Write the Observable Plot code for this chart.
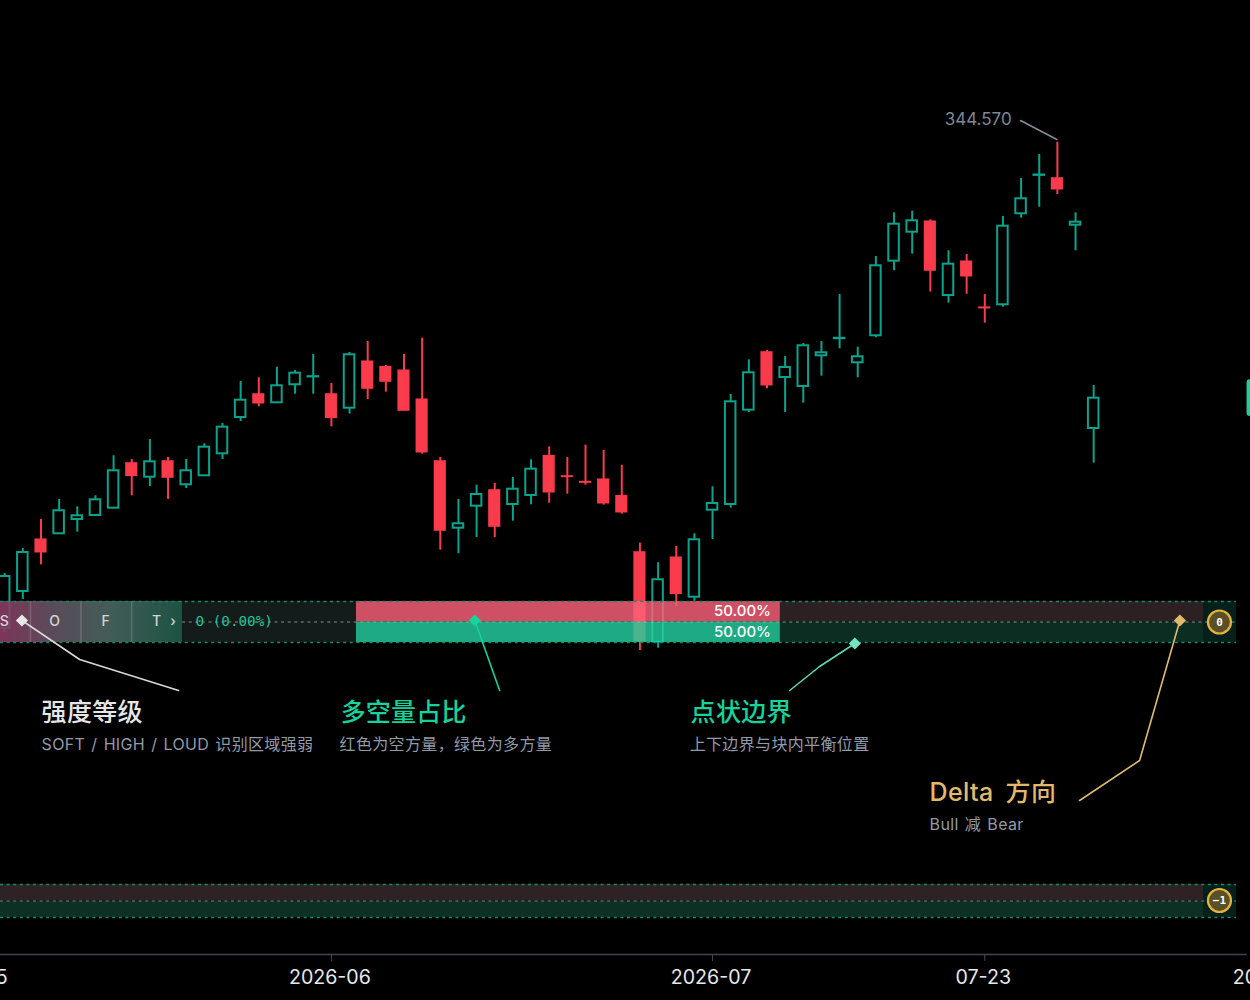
<!DOCTYPE html>
<html>
<head>
<meta charset="utf-8">
<style>
html,body{margin:0;padding:0;background:#000;overflow:hidden}
#chart svg{display:block;background:#000;font-family:Inter,"Noto Sans CJK SC",sans-serif}
</style>
<script src="https://cdn.jsdelivr.net/npm/d3@7"></script>
<script src="https://cdn.jsdelivr.net/npm/@observablehq/plot@0.6"></script>
</head>
<body>
<div id="chart"></div>
<script>
const opens = [223,232.25,245.18,246.68,250.25,251.25,253.08,264.25,260.83,264.75,258.93,261.18,266.68,275.75,281.5,279.43,283.93,285.9,
281.5,278.08,289.68,288.33,287.43,280.18,264.75,248.08,253.58,257.5,254,256.25,266.08,261,259.6,260.18,256.08,242,219.58,240.68,230.83,
252.58,254,277.58,292,285.75,283.5,291.18,295.45,289.43,296.18,314.83,322.08,324.68,306.25,314.68,303.2,303.93,326.68,336.28,335.5,323.83,273];
const closes = [236,242,242.08,252.43,251.18,255.18,262.43,261.18,264.68,260.75,262.43,268.33,273.33,280.08,279.33,283.68,286.83,285.95,
275.68,291.43,283,284.75,277.5,267.08,247.5,249.18,256.5,248.5,257.83,262.83,257.08,260.9,259.5,254.33,252.08,219.83,235.18,231.68,245.18,
254.25,279.68,286.93,283.83,288.25,293.68,291.93,295.55,290.93,313.68,324.08,324.93,312.5,314.08,311.08,303.1,323.58,330.43,336.38,332.83,324.58,280.58];
const highs = [236.75,243,250.25,255.25,253.43,256.18,266.18,265.25,270.25,265.75,265.25,269.18,274.25,284.75,285.68,288.33,287.5,291.5,
284.25,292,294.75,288.75,291.5,295.58,265.75,255.25,258.83,259.25,260.75,265.18,268.43,265.75,268.83,267.5,263.83,244.33,239.43,243.5,246.68,
258.43,281.5,290.18,292.5,291,294.25,294.75,306.5,293.33,316,326.93,327.33,325.18,317.43,316.5,306.5,326,335.5,341.5,344.57,326.93,283.75];
const lows = [222,230.25,238.93,246.6,247.08,251.1,253,256.18,258.5,255.25,258,261.1,265.25,274.75,278.43,279.38,281.58,281.58,
273.43,276.58,280.25,282.08,277.43,266.58,242.58,241.68,245.75,245.75,249.83,253.93,254.33,256.58,258.83,253.83,251.58,217.5,218.08,228.5,229.83,
245.25,253.08,277,282.93,277,279.33,286.08,292.93,285.68,295.68,312.43,316.58,307.08,304.33,306.58,299.33,303.33,325.58,328.33,331.5,317.43,264.33];
const tickBars = [-2,18,39,54,70];
const tickLabels = ["2026-05","2026-06","2026-07","07-23","2026-08"];
const ratioLabels = ["50.00%","50.00%"];
const strengthLetters = ["S","O","F","T","›"];
const strengthBars = [-0.03,2.75,5.56,8.37,9.27];
const separatorBars = [1.42,4.2,6.99];
const deltaLabels = ["0","−1"];
const deltaPrices = [224.63,155];
const highLabel = "344.570";

const UP = "#0ba38c", DOWN = "#f93b4c";
const candles = opens.map((o,i)=>({i,o,c:closes[i],h:highs[i],l:lows[i],up:closes[i]>=o}));
const upCandles = candles.filter(d=>d.up), downCandles = candles.filter(d=>!d.up);

const XL=-0.2314, XS=9.8, XA=19.38, XB=42.74, XC=66.05, XR=67.87;
const spaced=(ls,ws)=>(index,scales,values,dims,ctx,next)=>{
  const g=next(index,scales,values,dims,ctx);
  g.style.letterSpacing=ls+"px"; g.style.wordSpacing=ws+"px";
  return g;
};
const band=(x1,x2,y1,y2,fill,fillOpacity=1)=>Plot.rect([0],{x1,x2,y1,y2,fill,fillOpacity});
const dash=(y,x1,x2,stroke,opt={})=>Plot.ruleY([y],{x1,x2,stroke,strokeWidth:1.7,strokeDasharray:"3,3.6",...opt});
const txt=(t,x,y,o)=>Plot.text([t],{x:()=>x,y:()=>y,text:d=>d,textAnchor:"start",...o});
const leader=(xs,ys,stroke)=>Plot.line(xs.map((x,k)=>[x,ys[k]]),{x:d=>d[0],y:d=>d[1],stroke,strokeWidth:1.6,curve:"linear"});
const marker=(x,y,fill)=>Plot.dot([0],{x:()=>x,y:()=>y,symbol:"diamond2",r:5.5,fill});

const gradient = () => {
  const defs=d3.create("svg:defs");
  const g=defs.append("linearGradient").attr("id","softGrad").attr("gradientUnits","userSpaceOnUse")
    .attr("x1",0).attr("x2",182).attr("y1",0).attr("y2",0);
  [[0,"#8a3b62"],[0.3,"#625463"],[0.6,"#4a6660"],[1,"#1f5c4b"]].forEach(([o,c])=>g.append("stop").attr("offset",o).attr("stop-color",c));
  return defs.node();
};

const MINT="#16d39c", GOLD="#e0bb6c", SUB="#929aa6", WHITE="#e6e6e6", MONO="'DejaVu Sans Mono',monospace";
const BORDER="#128c6d", MID="#b4b4b4";
const titleOpts={fontSize:25,fontWeight:500,render:spaced(0.2,0)};
const subOpts={fontSize:16,fill:SUB,render:spaced(0.35,1.3)};

const chart = Plot.plot({
  width:1250,height:1000,
  marginTop:0,marginRight:0,marginBottom:46,marginLeft:0,
  style:{background:"#000"},
  x:{domain:[XL,68.64]},
  y:{domain:[141.5,380],axis:null},
  marks:[
    gradient,
    // price candles
    Plot.ruleX(candles,{x:"i",y1:"l",y2:"h",stroke:d=>d.up?UP:DOWN,strokeWidth:2}),
    Plot.rect(upCandles,{x1:d=>d.i-0.29,x2:d=>d.i+0.29,y1:"o",y2:"c",fill:"#000",stroke:UP,strokeWidth:2}),
    Plot.rect(downCandles,{x1:d=>d.i-0.29,x2:d=>d.i+0.29,y1:"o",y2:"c",fill:DOWN,stroke:DOWN,strokeWidth:1.6}),

    // first panel
    band(XL,XS,219.5,229.75,"url(#softGrad)",0.9),
    band(XS,XA,219.5,229.75,"#141c1c",0.95),
    band(XA,XB,224.63,229.75,"#fc627a",0.82),
    band(XA,XB,219.5,224.63,"#25cf9f",0.82),
    band(XB,XC,224.63,229.75,"#2e2224",0.95),
    band(XB,XC,219.5,224.63,"#0d3024",0.95),
    band(XC,XR,219.5,229.75,"#04201a"),
    Plot.ruleX(separatorBars,{y1:219.5,y2:229.75,stroke:"#fff",strokeOpacity:0.16,strokeWidth:1.5}),
    dash(229.75,XL,XR,BORDER),
    dash(219.5,XL,XR,BORDER),
    dash(224.63,XS,XR,MID,{strokeOpacity:0.5,strokeWidth:1.5}),
    Plot.text(strengthLetters,{x:(d,i)=>strengthBars[i],y:()=>224.75,text:d=>d,fill:"#d4d4d4",fontSize:14,fontWeight:500}),
    txt("0 (0.00%)",10.51,224.75,{fill:"#1fc495",fontSize:14.3,fontWeight:500,fontFamily:MONO}),
    Plot.text(ratioLabels,{x:()=>42.22,y:(d,i)=>i?222:227.25,text:d=>d,textAnchor:"end",fill:"#fff",fontSize:15,fontWeight:500}),

    // second panel
    band(XL,XC,154.88,159,"#2e2224"),
    band(XL,XC,150.75,154.88,"#0d3024"),
    band(XC,XR,150.75,159,"#04201a"),
    dash(159,XL,XR,BORDER),
    dash(150.75,XL,XR,BORDER),
    dash(154.88,XL,XR,MID,{strokeOpacity:0.42,strokeWidth:1.5}),

    // delta badges
    Plot.dot(deltaPrices,{x:()=>66.93,y:d=>d,r:11.5,fill:"#5a5028",stroke:"#e6b23c",strokeWidth:2.2}),
    Plot.text(deltaLabels,{x:()=>66.93,y:(d,i)=>deltaPrices[i],text:d=>d,fill:"#fff",fontSize:11,fontWeight:700,fontFamily:MONO}),

    // highest-price note
    leader([55.97,57.97],[350,345.25],"#858b96"),
    txt(highLabel,51.79,350.25,{fill:"#7f8794",fontSize:17}),

    // annotations
    leader([0.95,4.13,9.58],[225,215.25,207.5],"#d8d8d8"),
    marker(0.95,225,"#e8e8e8"),
    txt("强度等级",2.03,202,{...titleOpts,fill:WHITE,render:spaced(0.35,0)}),
    txt("SOFT / HIGH / LOUD 识别区域强弱",2.03,193.9,subOpts),

    leader([25.9,27.27],[225,207.5],MINT),
    marker(25.9,225,MINT),
    txt("多空量占比",18.51,202,{...titleOpts,fill:MINT}),
    txt("红色为空方量，绿色为多方量",18.45,193.9,subOpts),

    leader([46.84,44.9,43.25],[219.25,213.5,207.5],"#58d8b4"),
    marker(46.84,219.25,"#74e4c4"),
    txt("点状边界",37.79,202,{...titleOpts,fill:MINT,render:spaced(0.35,0)}),
    txt("上下边界与块内平衡位置",37.74,193.9,subOpts),

    leader([64.75,62.53,59.22],[225,190,180],GOLD),
    marker(64.75,225,GOLD),
    txt("Delta 方向",50.96,182,{...titleOpts,fill:GOLD,render:spaced(0.35,5)}),
    txt("Bull 减 Bear",50.96,173.9,subOpts),

    // edge price tag
    Plot.rect([0],{x1:68.45,x2:70,y1:276,y2:285.2,fill:"#2ec79a",rx:3}),

    // time axis
    Plot.ruleY([141.5],{x1:XL,x2:68.45,stroke:"#3f4552",strokeWidth:1.5}),
    Plot.axisX(tickBars,{tickFormat:()=>null,tickSize:7,stroke:"#444a55",label:null}),
    Plot.axisX(tickBars,{tickFormat:b=>tickLabels[tickBars.indexOf(b)],tickSize:0,tickPadding:16,fontSize:19.6,fontVariant:"normal",dx:-1.5,fill:"#e8e8e8",stroke:"none",label:null})
  ]
});
document.getElementById("chart").append(chart);
</script>
</body>
</html>
